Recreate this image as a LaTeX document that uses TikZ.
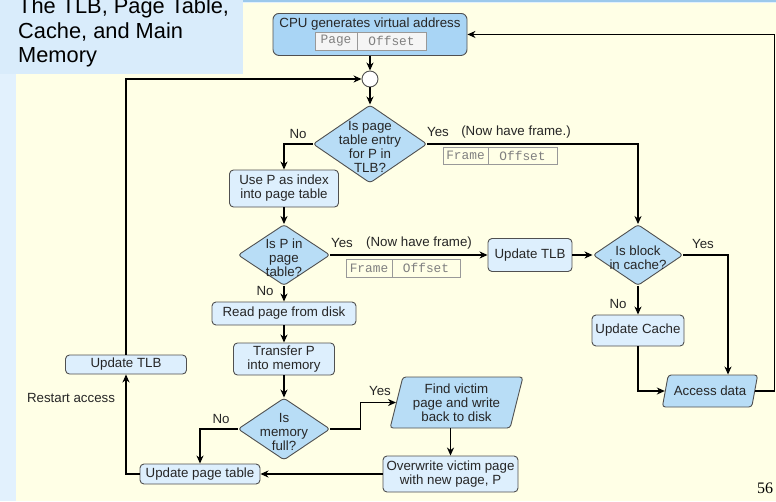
\documentclass[tikz,border=0pt]{standalone}
\usepackage{fontspec}
\setmainfont{Liberation Sans}
\setmonofont{Liberation Mono}
\newfontfamily\slidenumfont{Liberation Serif}
\usetikzlibrary{arrows.meta,positioning,shapes.geometric}
\definecolor{slidebg}{HTML}{E2F1FD}
\definecolor{titlebg}{HTML}{D9ECFB}
\definecolor{topline}{HTML}{9CC9EC}
\definecolor{cream}{HTML}{FFFFE6}
\definecolor{cpufill}{HTML}{A9D5F5}
\definecolor{diafill}{HTML}{B8DDF6}
\definecolor{boxfill}{HTML}{DDEFFD}
\definecolor{nodeline}{HTML}{505050}
\begin{document}
\begin{tikzpicture}[x=1pt, y=-1pt,
                    every node/.style={font=\fontsize{13.3}{14}\selectfont, text=black!85},
                    process/.style={rectangle, draw=nodeline, line width=0.9pt, fill=boxfill,
                                    rounded corners=4pt, align=center, inner sep=2pt},
                    decision/.style={diamond, draw=nodeline, line width=0.9pt, fill=diafill,
                                     rounded corners=3pt, inner sep=0pt},
                    diatext/.style={align=center, yshift=-2.5pt},
                    io/.style={trapezium, trapezium stretches=true, draw=nodeline, line width=0.9pt,
                               fill=diafill, rounded corners=3pt, align=center, inner sep=1pt},
                    field/.style={rectangle, draw=gray!80, line width=0.8pt, text=gray,
                                  font=\ttfamily\fontsize{12.8}{14}\selectfont,
                                  minimum height=18pt, inner sep=0pt, outer sep=0pt},
                    lbl/.style={inner sep=1pt},
                    arr/.style={-{Stealth[length=8pt,width=7pt,inset=2.5pt]}, line width=1.3pt}]
  \useasboundingbox (0,0) rectangle (776,501);
  \clip (0,0) rectangle (776,501);
  \fill[slidebg] (0,0) rectangle (776,501);
  \fill[cream] (16,3) rectangle (776,501);
  \fill[titlebg] (0,0) rectangle (243,74);
  \fill[topline] (243,0) rectangle (776,1.6);
  \node[font=\fontsize{21.8}{24.5}\selectfont, align=left, anchor=north west,
        inner sep=0pt, text=black] (title) at (18,-2.5) {The TLB, Page Table,\\Cache, and Main\\Memory};

  \node[process, fill=cpufill, anchor=north, minimum width=194pt, minimum height=42pt,
        text depth=24pt, rounded corners=6pt] (cpu) at (370,13) {CPU generates virtual address};
  \node[field, fill=white!92!gray, minimum width=42pt, anchor=north west] (page) at (315,32) {Page};
  \node[field, fill=white!92!gray, minimum width=69pt, right=0pt of page] (poff) {Offset};

  \node[circle, draw=nodeline, line width=0.9pt, fill=white, minimum size=16pt, inner sep=0pt] (junc) at (370,79) {};

  \node[decision, minimum width=114pt, minimum height=78pt,
        label={[diatext]center:Is page\\table entry\\for P in\\TLB?}] (tlb) at (370,144) {};
  \node[field, minimum width=45pt, minimum height=17pt, anchor=north west] (frame) at (443,147) {Frame};
  \node[field, minimum width=69pt, minimum height=17pt, right=0pt of frame] (foff) {Offset};

  \node[process, minimum width=109pt, minimum height=37pt] (usep) at (284,188.5) {Use P as index\\into page table};
  \node[decision, minimum width=92pt, minimum height=61pt,
        label={[diatext]center:Is P in\\page\\table?}] (isp) at (284,255) {};
  \node[field, minimum width=46pt, anchor=north west] (pframe) at (346,259) {Frame};
  \node[field, minimum width=68pt, right=0pt of pframe] (pfoff) {Offset};

  \node[process, minimum width=144pt, minimum height=23pt] (read) at (284,313.5) {Read page from disk};
  \node[process, minimum width=101pt, minimum height=32pt] (xfer) at (284,359) {Transfer P\\into memory};
  \node[decision, minimum width=92pt, minimum height=62pt,
        label={[diatext]center:Is\\memory\\full?}] (mem) at (284,429) {};
  \node[io, trapezium left angle=75, trapezium right angle=105, minimum width=133pt,
        minimum height=51pt] (find) at (456.5,402.5) {Find victim\\page and write\\back to disk};
  \node[process, minimum width=135pt, minimum height=36pt] (over) at (450.5,474) {Overwrite victim page\\with new page, P};
  \node[process, minimum width=120pt, minimum height=20pt] (upt) at (200,474) {Update page table};
  \node[process, minimum width=121pt, minimum height=19pt] (utlbl) at (126,364.5) {Update TLB};

  \node[process, minimum width=84pt, minimum height=33pt] (utlbr) at (530,255) {Update TLB};
  \node[decision, minimum width=90pt, minimum height=61pt,
        label={[diatext]center:Is block\\in cache?}] (cache) at (638,255) {};
  \node[process, minimum width=92pt, minimum height=31pt] (ucache) at (638,330.5) {Update Cache};
  \node[io, trapezium left angle=66, trapezium right angle=114, minimum width=96pt,
        minimum height=32pt] (acc) at (710,391) {Access data};

  \node[lbl] (no1) at (298,134) {No};
  \node[lbl] (yes1) at (438,132) {Yes};
  \node[lbl] (have1) at (516,132) {(Now have frame.)};
  \node[lbl] (yes2) at (342,243) {Yes};
  \node[lbl] (have2) at (419,243) {(Now have frame)};
  \node[lbl] (no2) at (265,291) {No};
  \node[lbl] (yes3) at (703,244) {Yes};
  \node[lbl] (no3) at (618,304) {No};
  \node[lbl] (yes4) at (380,391) {Yes};
  \node[lbl] (no4) at (221,419) {No};
  \node[lbl] (restart) at (71,398) {Restart access};
  \node[font=\slidenumfont\fontsize{16}{16}\selectfont, text=black] (pagenum) at (765,488) {56};

  \draw[arr] (cpu) -- (junc);
  \draw[arr] (junc) -- (tlb);
  \draw[arr] (tlb.west) -| (usep.north);
  \draw[arr] (tlb.east) -| (cache.north);
  \draw[arr] (usep) -- (isp);
  \draw[arr] (isp.east) -- (utlbr.west);
  \draw[arr] (isp) -- (read);
  \draw[arr] (read) -- (xfer);
  \draw[arr] (xfer) -- (mem);
  \draw[arr] (mem.east) -- ++(30,0) |- (find.west);
  \draw[arr] (find.south -| over.north) -- (over.north);
  \draw[arr] (over) -- (upt);
  \draw[arr] (mem.west) -| (upt.north);
  \draw[arr] (upt.west) -| (utlbl.south);
  \draw[arr] (utlbl.north) |- (junc.west);
  \draw[arr] (utlbr) -- (cache);
  \draw[arr] (cache.east) -| ([xshift=18pt]acc.north);
  \draw[arr] (cache) -- (ucache);
  \draw[arr] (ucache.south) |- (acc.west);
  \draw[arr] (acc.east) -- ++(19,0) |- (cpu.east);
\end{tikzpicture}
\end{document}
